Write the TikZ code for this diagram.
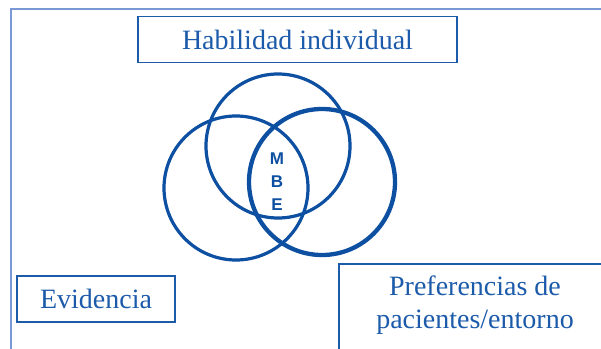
\documentclass[tikz,border=0pt]{standalone}
\usepackage{fontspec}
\setmainfont{Liberation Serif}
\newfontfamily\letrasmbe{Liberation Sans}
\usepackage{tikz}
\usetikzlibrary{positioning}

\definecolor{azul}{HTML}{1C5AAA}
\definecolor{azulcirc}{HTML}{0D4FA0}
\definecolor{marco}{HTML}{7B98D6}

\begin{document}
\begin{tikzpicture}[x=1pt,y=-1pt,
  caja/.style={draw=azul, line width=1.6pt, text=azul, inner sep=0pt},
  anillo/.style={draw=azulcirc, circle, line width=3.2pt, inner sep=0pt},
  texto/.style={text=azul, font=\fontsize{28}{33}\selectfont, align=center}]
\clip (0,0) rectangle (601,348);
% marco exterior
\draw[marco, line width=1.6pt] (11,9) rectangle (640,380);
% circulos
\node [anillo, minimum size=144pt] (hab) at (278,146) {};
\node [anillo, minimum size=144pt] (evi) at (236,188) {};
\node [anillo, minimum size=146pt, line width=4.3pt] (pref) at (322,182) {};
\node [text=azulcirc, align=center, font=\letrasmbe\bfseries\fontsize{17}{23}\selectfont] (mbe) at (277,182) {M\\B\\E};
% cajas
\node [caja, texto, minimum width=319pt, minimum height=46pt] (habilidad) at (297.5,39.5) {Habilidad individual};
\node [caja, texto, minimum width=158pt, minimum height=46pt] (evidencia) at (96,299) {Evidencia};
\draw [azul, line width=1.6pt] (339,264) rectangle (640,380);
\node [texto] (preferencias) at (475,305) {Preferencias de\\pacientes/entorno};
\end{tikzpicture}
\end{document}
